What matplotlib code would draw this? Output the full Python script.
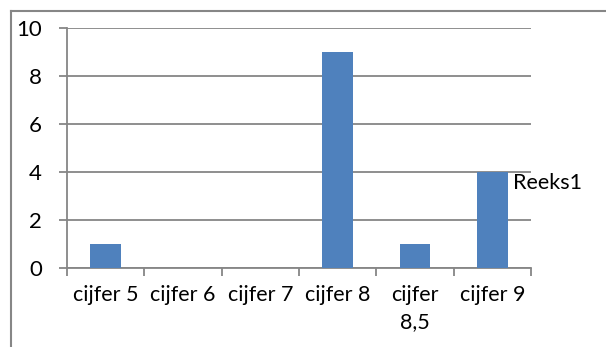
import matplotlib.pyplot as plt
from matplotlib.lines import Line2D

categories = ["cijfer 5", "cijfer 6", "cijfer 7", "cijfer 8", "cijfer\n8,5", "cijfer 9"]
values = [1, 0, 0, 9, 1, 4]
series_name = "Reeks1"
y_ticks = [0, 2, 4, 6, 8, 10]

W, H = 606, 347
gray = "#868686"
blue = "#4F81BD"

plt.rcParams["font.family"] = ["Lato", "DejaVu Sans"]
fig = plt.figure(figsize=(W / 100, H / 100), dpi=100)

# outer chart border (only top and left are inside the canvas)
fig.add_artist(Line2D([11 / W, 1], [1 - 11 / H, 1 - 11 / H], color=gray, lw=1.5, transform=fig.transFigure))
fig.add_artist(Line2D([11 / W, 11 / W], [0, 1 - 11 / H], color=gray, lw=1.5, transform=fig.transFigure))

ax = fig.add_axes([67 / W, 79 / H, (531 - 67) / W, (268 - 28) / H])
x = range(len(categories))
ax.bar(x, values, width=0.4, color=blue, zorder=3)

ax.set_xlim(-0.5, len(categories) - 0.5)
ax.set_ylim(0, 10)
ax.set_yticks(y_ticks)
ax.set_yticklabels([str(v) for v in y_ticks], fontsize=16)
ax.yaxis.grid(True, color=gray, lw=1.3, zorder=0)
ax.tick_params(axis="y", direction="out", length=6, width=1.3, color=gray, pad=12)

# category boundaries get the tick marks, centres get the labels
ax.set_xticks([i - 0.5 for i in range(len(categories) + 1)])
ax.set_xticklabels([])
ax.set_xticks(list(x), minor=True)
ax.set_xticklabels(categories, minor=True, fontsize=15.5, linespacing=1.45)
ax.tick_params(axis="x", which="major", direction="out", length=6, width=1.3, color=gray)
ax.tick_params(axis="x", which="minor", length=0, pad=12)

for s in ["top", "right"]:
    ax.spines[s].set_visible(False)
for s in ["left", "bottom"]:
    ax.spines[s].set_color(gray)
    ax.spines[s].set_linewidth(1.3)

fig.text(513 / W, 1 - 183 / H, series_name, fontsize=15.5, va="center", ha="left")

fig.savefig("out.png", dpi=100)
